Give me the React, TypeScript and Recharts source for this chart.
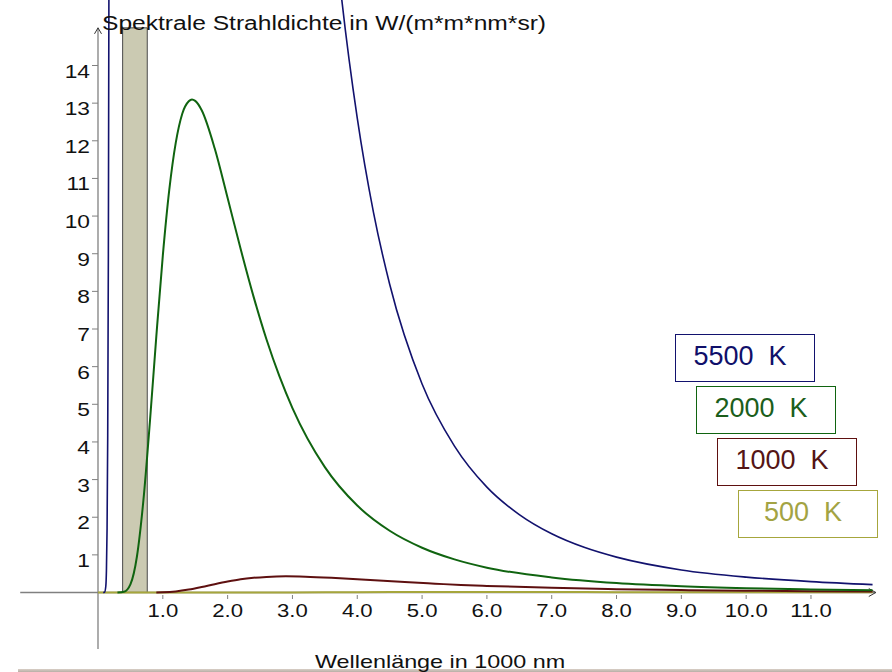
import React from "react";
import { LineChart, Line, XAxis, YAxis, ReferenceArea, ReferenceLine } from "recharts";

const FONT = '"Liberation Sans", Arial, sans-serif';
const STRETCH = 1.23; // the source picture is stretched horizontally
const AXIS = "#808080";

// wavelength in 1000 nm, radiance
const lambda5500 = [0.08, 0.1, 0.12, 0.13, 0.14, 0.15, 0.16, 0.17, 0.18, 0.2, 0.5, 1.0, 2.0, 2.5, 3.0, 3.25, 3.5, 3.75, 4.0, 4.25, 4.5, 5.0, 5.5, 6.0, 6.5, 7.0, 7.5, 8.0, 9.0, 10.0, 11.0, 11.95];
const radiance5500 = [0, 0.005, 0.16, 0.58, 1.7, 4.18, 9.0, 17.4, 30.7, 77.5, 2047, 939, 137.9, 66.0, 35.2, 26.55, 20.4, 15.92, 12.6, 10.1, 8.19, 5.54, 3.89, 2.8, 2.07, 1.56, 1.2, 0.94, 0.6, 0.41, 0.29, 0.21];

const lambda2000 = [0.3, 0.4, 0.5, 0.6, 0.7, 0.8, 0.9, 1.0, 1.1, 1.2, 1.3, 1.4, 1.45, 1.5, 1.6, 1.8, 2.0, 2.2, 2.4, 2.6, 2.8, 3.0, 3.5, 4.0, 4.5, 5.0, 5.5, 6.0, 7.0, 8.0, 9.0, 10.0, 11.0, 11.95];
const radiance2000 = [0, 0.018, 0.215, 0.95, 2.44, 4.52, 6.81, 8.95, 10.7, 11.95, 12.72, 13.05, 13.1, 13.06, 12.81, 11.8, 10.48, 9.13, 7.86, 6.72, 5.74, 4.9, 3.33, 2.31, 1.64, 1.19, 0.88, 0.66, 0.4, 0.25, 0.165, 0.113, 0.08, 0.059];

const lambda1000 = [0.9, 1.0, 1.2, 1.4, 1.6, 1.8, 2.0, 2.2, 2.4, 2.6, 2.9, 3.2, 3.6, 4.0, 4.4, 4.8, 5.2, 5.6, 6.0, 7.0, 8.0, 9.0, 10.0, 11.0, 11.95];
const radiance1000 = [0.002, 0.007, 0.03, 0.078, 0.145, 0.22, 0.29, 0.35, 0.39, 0.415, 0.43, 0.42, 0.39, 0.35, 0.31, 0.27, 0.235, 0.2, 0.175, 0.125, 0.09, 0.065, 0.048, 0.036, 0.028];

const lambda500 = [0, 1.0, 2.0, 3.0, 4.0, 5.0, 6.0, 7.0, 8.0, 9.0, 10.0, 11.0, 11.95];
const radiance500 = [0, 0, 0.0002, 0.0033, 0.0088, 0.012, 0.0128, 0.0118, 0.0102, 0.0086, 0.0071, 0.0058, 0.0048];

const xTicks = [1, 2, 3, 4, 5, 6, 7, 8, 9, 10, 11];
const yTicks = [1, 2, 3, 4, 5, 6, 7, 8, 9, 10, 11, 12, 13, 14];
const visibleBand = [0.38, 0.76];

const toRows = (xs: number[], ys: number[]) => xs.map((x, i) => ({ x, y: ys[i] }));

// drawn in this order, 5500 K on top
const series = [
  { name: "500  K", color: "#a6a63c", text: "#a3a343", width: 2, data: toRows(lambda500, radiance500) },
  { name: "1000  K", color: "#5e1010", text: "#551515", width: 2, data: toRows(lambda1000, radiance1000) },
  { name: "2000  K", color: "#106410", text: "#1b5e1b", width: 2, data: toRows(lambda2000, radiance2000) },
  { name: "5500  K", color: "#12126e", text: "#10106a", width: 1.6, data: toRows(lambda5500, radiance5500) },
];

const legendPos: Record<string, { left: number; top: number }> = {
  "5500  K": { left: 675, top: 334 },
  "2000  K": { left: 696, top: 386 },
  "1000  K": { left: 717, top: 438 },
  "500  K": { left: 738, top: 490 },
};

const XTick = ({ x, y, payload }: any) => (
  <g transform={`translate(${x},${y}) scale(${STRETCH},1)`}>
    <text x={0} y={16} textAnchor="middle" fontSize={18} fontFamily={FONT} fill="#111">
      {payload.value.toFixed(1)}
    </text>
  </g>
);

const YTick = ({ x, y, payload }: any) => (
  <g transform={`translate(${x},${y}) scale(${STRETCH},1)`}>
    <text x={0} y={12} textAnchor="end" fontSize={18.5} fontFamily={FONT} fill="#111">
      {payload.value}
    </text>
  </g>
);

const arrowLine = (dir: "up" | "right") => (p: any) => {
  const { x1, y1, x2, y2 } = p;
  const head =
    dir === "up"
      ? `M${x2 - 3.5},${y2 + 6} L${x2},${y2} L${x2 + 3.5},${y2 + 6}`
      : `M${x2 - 7},${y2 - 4} L${x2},${y2} L${x2 - 7},${y2 + 4}`;
  return (
    <g>
      <line x1={x1} y1={y1} x2={x2} y2={y2} stroke={AXIS} strokeWidth={1.3} />
      <path d={head} fill="none" stroke="#333" strokeWidth={1} />
    </g>
  );
};

export default function App() {
  return (
    <div style={{ position: "absolute", left: 0, top: 0, width: 892, height: 672, overflow: "hidden", background: "#fff" }}>
      <LineChart width={892} height={672} margin={{ top: 0, right: 0, bottom: 0, left: 0 }}>
        <XAxis
          type="number"
          dataKey="x"
          domain={[0, 12.25]}
          allowDataOverflow
          ticks={xTicks}
          interval={0}
          height={77}
          axisLine={false}
          tickSize={4}
          tickMargin={2}
          tickLine={{ stroke: AXIS }}
          tick={<XTick />}
        />
        <YAxis
          type="number"
          domain={[-0.066, 15.74]}
          allowDataOverflow
          ticks={yTicks}
          interval={0}
          width={98}
          axisLine={false}
          tickSize={6}
          tickMargin={2}
          tickLine={{ stroke: AXIS }}
          tick={<YTick />}
        />
        <ReferenceArea
          x1={visibleBand[0]}
          x2={visibleBand[1]}
          y1={0}
          y2={15}
          fill="#cbcab2"
          fillOpacity={1}
          stroke="#4a4a4a"
          strokeWidth={1}
        />
        <ReferenceLine
          segment={[{ x: -1.2, y: 0 }, { x: 12, y: 0 }]}
          ifOverflow="visible"
          shape={arrowLine("right")}
        />
        <ReferenceLine
          segment={[{ x: 0, y: -1.5 }, { x: 0, y: 15 }]}
          ifOverflow="visible"
          shape={arrowLine("up")}
        />
        {series.map((s) => (
          <Line
            key={s.name}
            data={s.data}
            dataKey="y"
            name={s.name}
            type="monotone"
            stroke={s.color}
            strokeWidth={s.width}
            dot={false}
            activeDot={false}
            isAnimationActive={false}
          />
        ))}
      </LineChart>

      <div
        style={{
          position: "absolute",
          left: 18,
          right: 0,
          top: 669,
          height: 3,
          background: "linear-gradient(#d9cfc6, #b8aea6)",
        }}
      />

      <svg width={892} height={672} style={{ position: "absolute", left: 0, top: 0, pointerEvents: "none" }}>
        <g transform={`translate(102,30) scale(${STRETCH},1)`}>
          <text x={0} y={0} fontSize={20} fontFamily={FONT} fill="#111">
            Spektrale Strahldichte in W/(m*m*nm*sr)
          </text>
        </g>
        <g transform={`translate(315,668) scale(${STRETCH},1)`}>
          <text x={0} y={0} fontSize={19} fontFamily={FONT} fill="#111">
            Wellenlänge in 1000 nm
          </text>
        </g>
      </svg>

      {series.map((s) => {
        const pos = legendPos[s.name];
        return (
          <div
            key={s.name}
            style={{
              position: "absolute",
              left: pos.left,
              top: pos.top,
              width: 140,
              height: 48,
              boxSizing: "border-box",
              border: `1.5px solid ${s.color}`,
              background: "#fff",
              display: "flex",
              alignItems: "center",
              justifyContent: "center",
              paddingRight: 10,
              paddingBottom: 4,
              fontFamily: FONT,
              fontSize: 27,
              color: s.text,
              whiteSpace: "pre",
            }}
          >
            {s.name}
          </div>
        );
      })}
    </div>
  );
}
